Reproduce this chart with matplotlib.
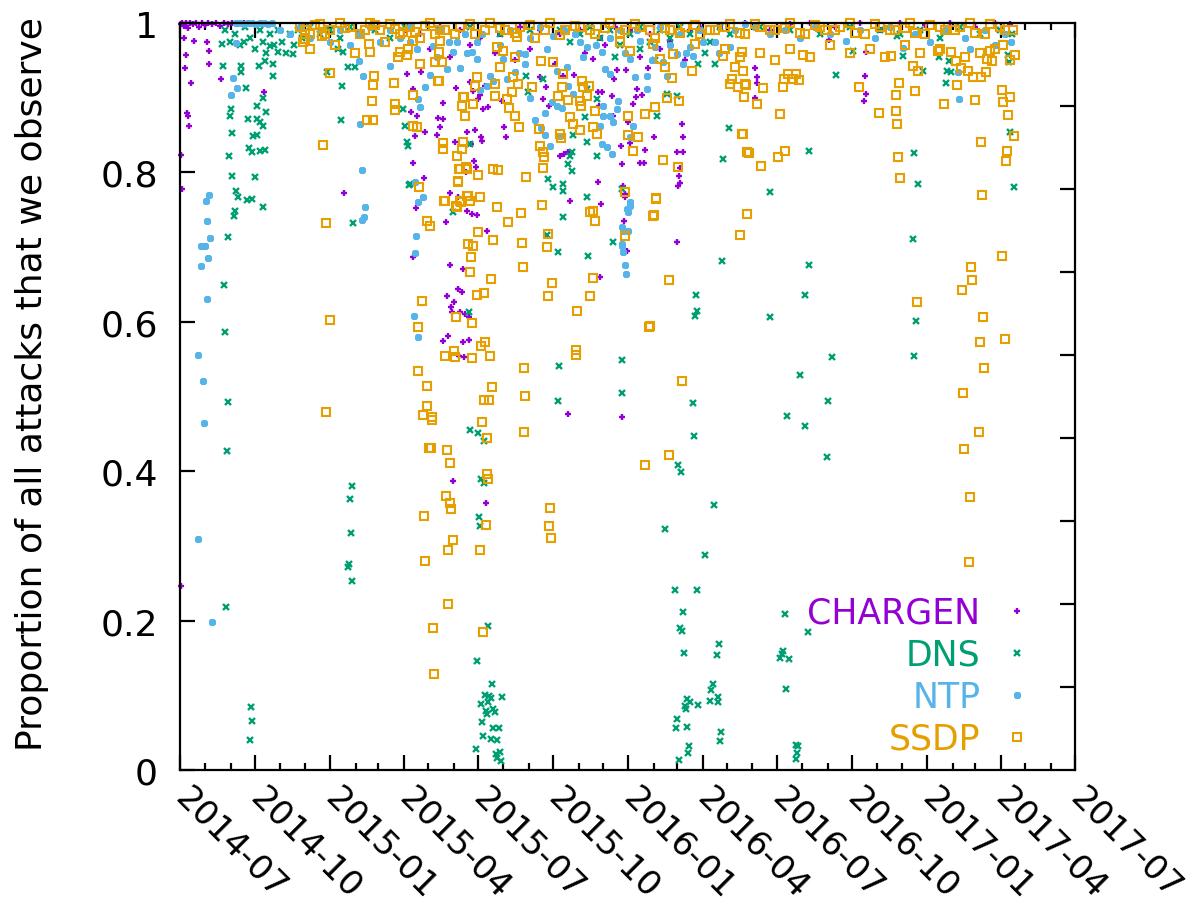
import numpy as np
import matplotlib
matplotlib.use("Agg")
import matplotlib.pyplot as plt
import matplotlib.dates as mdates
from matplotlib.ticker import FixedLocator, NullFormatter

START = np.datetime64("2014-07-01")
END = np.datetime64("2017-07-01")

chargen = [
    (1, .998), (2, 1.0), (5, .996), (7, 1.0), (10, .993), (12, 1.0), (16, .998), (20, 1.0),
    (23, .995), (27, 1.0), (31, .997), (34, 1.0), (39, .999), (44, 1.0), (49, .996), (54, 1.0),
    (59, .998), (64, 1.0), (71, .999), (78, 1.0),
    (1, .823), (2, .778), (1, .246), (6, .94), (7, .957), (9, .88), (10, .876), (11, .862),
    (13, .92), (5, .98), (17, .976), (33, .975), (36, .962), (36, .945), (50, .925), (103, .907),
    (201, .772),
    (278, .932), (295, .934), (285, .912), (283, .881), (290, .876), (288, .849), (300, .854),
    (315, .85), (316, .873), (322, .871), (322, .893), (338, .913), (359, .909), (367, .904),
    (365, .898), (374, .916), (371, .885), (377, .888), (394, .896), (318, .861), (337, .841),
    (351, .854), (361, .857), (369, .847), (370, .842), (356, .838), (360, .815), (362, .807),
    (350, .801), (299, .793), (285, .813), (331, .772), (340, .767), (358, .744), (351, .748),
    (364, .743), (326, .734), (289, .752), (376, .722), (285, .687), (397, .861), (399, .847),
    (441, .928), (448, .914), (445, .898), (452, .889), (465, .822), (470, .825), (475, .827),
    (512, .787), (516, .758), (478, .762), (469, .929), (482, .93), (506, .952), (512, .908),
    (517, .908), (529, .902), (531, .925), (535, .937), (546, .937), (573, .94), (560, .912),
    (558, .901), (566, .904), (555, .892), (530, .876), (549, .867), (551, .839), (540, .835),
    (580, .847), (569, .83), (563, .813), (568, .813), (541, .811), (615, .865), (616, .847),
    (609, .827), (616, .827), (612, .806), (611, .795), (612, .786), (610, .782), (513, .889),
    (542, .782), (544, .735), (545, .771), (547, .695), (609, .707), (355, .921), (545, .767),
    (541, .473),
    (331, .676), (347, .671), (340, .644), (345, .64), (327, .635), (336, .627), (332, .62),
    (333, .613), (343, .613), (349, .61), (354, .607), (322, .574), (328, .581), (347, .573),
    (354, .576), (342, .554), (348, .553), (514, .66), (475, .477), (334, .387), (375, .357),
    (276, .99), (294, .985), (318, .995), (343, .99), (367, .98), (392, .985), (416, .995),
    (441, .99), (465, .985), (490, .99), (514, .98), (533, .995), (551, .99), (576, .985),
    (600, .975), (625, .99), (637, .995),
    (306, .965), (331, .955), (355, .97), (386, .96), (410, .95), (429, .965), (459, .945),
    (496, .96), (520, .97), (563, .955), (588, .965), (618, .95),
    (704, .94), (707, .928), (707, .92), (704, .90), (795, .977), (839, .929), (840, .905),
    (838, .896), (840, .961),
    (661, .995), (692, 1.0), (723, .99), (747, .998), (772, 1.0), (802, .995), (833, 1.0),
    (857, .99), (882, 1.0), (912, .997), (943, 1.0), (974, .995), (998, 1.0), (1016, .998),
]

dns = [
    (55, .99), (61, .975), (67, .985), (73, .97), (80, .995), (86, .98), (92, .965), (98, .99),
    (102, .975), (105, .96), (110, .985), (115, .97), (120, .99), (125, .975), (130, .96),
    (135, .985), (140, .97), (145, .99), (149, .98), (159, .995), (171, .985), (184, .99),
    (196, .98), (208, .995), (220, .985), (239, .99), (257, .98), (276, .995),
    (51, .972), (53, .942), (75, .942), (75, .934), (81, .913), (97, .942), (104, .949),
    (114, .945), (114, .929), (102, .90), (94, .889), (105, .881), (83, .871), (94, .871),
    (98, .867), (102, .862), (64, .853), (89, .849), (94, .85), (84, .833), (88, .827),
    (98, .829), (104, .83), (60, .822), (64, .795), (92, .794), (69, .775), (71, .767),
    (82, .763), (88, .764), (62, .885), (61, .876), (78, .975), (110, .969), (120, .961),
    (138, .958), (197, .87), (198, .916), (193, .965), (200, .961), (206, .941), (214, .941),
    (180, .934),
    (102, .754), (67, .748), (66, .742), (59, .714), (54, .649), (55, .586), (59, .493),
    (58, .427), (212, .732), (280, .783),
    (56, .218), (87, .084), (88, .066), (86, .04),
    (211, .38), (208, .363), (209, .317), (207, .276), (206, .272), (211, .253),
    (369, .39), (372, .384), (366, .339), (367, .327), (377, .193), (364, .146), (382, .115),
    (374, .1), (378, .099), (381, .096), (394, .098), (369, .088), (377, .091), (375, .079),
    (383, .082), (386, .078), (376, .075), (370, .064), (383, .056), (391, .056), (371, .046),
    (381, .042), (388, .04), (362, .028), (387, .021), (392, .024), (388, .016), (393, .012),
    (614, .399), (654, .355), (594, .323), (643, .288), (606, .241), (633, .241), (616, .211),
    (612, .19), (615, .186), (617, .157), (660, .169), (658, .154), (653, .115), (650, .107),
    (659, .098), (649, .092), (659, .091), (634, .087), (621, .095), (625, .091), (618, .086),
    (620, .082), (609, .068), (607, .056), (621, .058), (663, .051), (661, .039), (623, .032),
    (622, .023), (611, .013),
    (741, .209), (738, .159), (737, .155), (735, .15), (746, .149), (742, .108), (769, .185),
    (754, .033), (757, .032), (756, .023), (754, .015),
    (723, .774), (664, .681), (770, .676), (632, .636), (633, .614), (631, .608), (765, .636),
    (723, .606), (798, .553), (759, .529), (794, .494), (743, .474), (765, .46), (792, .419),
    (628, .491), (629, .447), (610, .408), (541, .549), (541, .505), (898, .711), (901, .601),
    (899, .554), (904, .784),
    (354, .613), (464, .541), (463, .494), (355, .455), (365, .451), (372, .44), (463, .693),
    (500, .688),
    (276, .862), (273, .885), (278, .841), (279, .835), (282, .784), (355, .838), (424, .929),
    (426, .908), (496, .874), (498, .912), (511, .898), (481, .85), (480, .827), (478, .822),
    (475, .811), (480, .802), (469, .784), (498, .841), (511, .822), (451, .791), (457, .78),
    (469, .775), (498, .767), (469, .74), (530, .707), (541, .778), (584, .876), (596, .905),
    (609, .902), (634, .945), (665, .818), (672, .859), (445, .925), (334, .747), (449, .716),
    (824, .962), (803, .93), (770, .829), (899, .826), (1021, .78), (1016, .854), (1014, .957),
    (1015, .948), (885, .956), (929, .954), (938, .92), (942, .949), (939, .936), (944, .934),
    (910, .936), (878, .983),
    (318, .99), (355, .995), (392, .985), (429, .99), (465, .99), (478, .975), (490, .985),
    (502, .995), (514, .98), (527, .99), (539, .97), (551, .985), (563, .995), (576, .975),
    (588, .99), (600, .98), (612, .995), (625, .985), (637, .99), (649, .975), (661, .995),
    (674, .985), (533, .955), (563, .965), (582, .95), (643, .96), (655, .945),
    (710, .995), (747, .99), (784, .985), (820, .995), (857, .99), (882, .985), (906, .99),
    (931, .98), (955, .995), (980, .985), (1004, .99), (1019, .985),
]

ntp = [
    (69, 1.0), (73, 1.0), (78, .999), (83, 1.0), (88, 1.0), (93, .998), (98, 1.0), (103, 1.0),
    (108, .999), (113, 1.0), (122, .99), (135, .985), (147, .995), (159, .98), (171, .99),
    (184, .975), (196, .99), (208, .97), (220, .985), (233, .995), (245, .975), (257, .99),
    (269, .98), (282, .995),
    (36, .77), (32, .762), (33, .735), (37, .712), (26, .701), (31, .701), (34, .685), (26, .675),
    (33, .631), (22, .556), (28, .521), (29, .465), (22, .309), (39, .198), (227, .754),
    (225, .74), (223, .736), (289, .715), (288, .692), (287, .608), (291, .58),
    (69, .973), (65, .926), (70, .913), (62, .904), (220, .865), (223, .803), (219, .949),
    (224, .929), (257, .942),
    (282, .975), (300, .914), (294, .888), (291, .898), (288, .787), (291, .76), (298, .767),
    (310, .969), (327, .938), (334, .961), (364, .975), (364, .952), (380, .929), (400, .925),
    (396, .952), (422, .958), (422, .945), (457, .983), (456, .894), (462, .889), (468, .886),
    (481, .905), (462, .936), (474, .941), (475, .916), (490, .975), (498, .968), (518, .889),
    (518, .876), (514, .862), (517, .838), (523, .834), (530, .867), (527, .876), (536, .896),
    (535, .885), (527, .932), (520, .938), (517, .961), (529, .825), (541, .727), (551, .755),
    (549, .747), (542, .722), (541, .701), (572, .929), (572, .912), (557, .928), (551, .952),
    (563, .976), (591, .948), (596, .929), (609, .958), (625, .968), (628, .956), (616, .945),
    (582, .968), (555, .862), (551, .847), (453, .835), (465, .849), (674, .968), (383, .922),
    (376, .916), (358, .961), (339, .975),
    (551, .76), (547, .751), (549, .722), (541, .704), (542, .693), (545, .676), (546, .664),
    (954, .898), (953, .934), (885, .967), (816, .976), (1018, .975), (967, .965),
    (637, .99), (655, .975), (680, .99), (692, .998), (704, .995), (723, .985), (741, .99),
    (759, .98), (778, .995), (796, .985), (833, .99), (851, .98), (869, .995), (900, .985),
    (918, .975), (937, .99), (961, .98), (986, .99), (998, .97), (1010, .985),
    (318, .99), (349, .985), (404, .99), (441, .995), (484, .985), (539, .99), (588, .995),
    (612, .985), (306, .93), (343, .94), (367, .91), (410, .935), (429, .90), (447, .88),
    (435, .87), (442, .86), (447, .85),
    (290, .965), (315, .955), (330, .975), (352, .96), (370, .985), (392, .97), (415, .96),
    (428, .98), (450, .965), (470, .99), (494, .955), (510, .97), (526, .98), (545, .96),
    (560, .99), (578, .95), (600, .97), (620, .96), (640, .975), (660, .96),
]

ssdp = [
    (174, .983), (184, .933), (238, .929), (236, .917), (235, .896), (262, .92), (263, .892),
    (263, .884), (229, .87), (236, .87), (175, .837), (269, .961), (278, .957), (294, .945),
    (231, .972), (233, .961), (153, .979), (151, .975), (290, .861), (285, .862), (317, .922),
    (347, .901), (345, .889), (349, .876), (322, .839), (322, .831), (345, .831), (347, .841),
    (339, .822), (343, .805), (350, .807), (340, .787), (293, .78), (323, .762), (343, .762),
    (338, .755), (351, .768),
    (179, .732), (184, .602), (179, .479), (296, .628), (291, .593), (291, .534),
    (356, .687), (355, .667), (381, .657), (364, .636), (372, .638), (420, .673), (456, .652),
    (451, .635), (506, .659), (502, .635), (486, .614), (599, .656), (574, .593), (338, .606),
    (358, .598), (374, .573), (369, .568), (325, .554), (336, .561), (337, .553), (358, .552),
    (380, .554), (421, .538), (485, .562), (485, .556), (302, .514), (382, .513), (422, .501),
    (372, .495), (378, .495), (302, .487), (298, .475), (309, .473), (309, .469), (370, .466),
    (421, .452), (376, .444), (305, .431), (307, .431), (327, .428), (331, .411), (376, .396),
    (377, .39), (326, .367), (599, .422), (569, .408),
    (331, .357), (332, .349), (299, .34), (334, .308), (328, .294), (300, .28), (328, .222),
    (310, .19), (311, .128),
    (375, .328), (367, .294), (371, .185), (453, .351), (452, .327), (454, .31),
    (545, .774), (583, .764), (580, .743), (694, .744), (686, .716), (576, .594), (615, .521),
    (903, .627),
    (1007, .688), (969, .673), (970, .656), (958, .643), (983, .606), (980, .573), (1010, .577),
    (985, .538), (959, .505), (978, .452), (960, .43), (967, .365), (966, .278),
    (689, .936), (693, .917), (691, .901), (707, .892), (714, .913), (735, .878), (689, .851),
    (697, .826), (732, .821), (741, .829), (711, .809), (740, .925), (738, .914), (745, .932),
    (754, .932), (758, .924), (751, .925), (763, .957), (832, .914), (856, .88), (880, .92),
    (877, .904), (900, .909), (877, .882), (878, .865), (879, .821), (882, .793), (936, .892),
    (952, .917), (974, .897), (898, .942), (904, .936), (956, .94), (965, .936), (971, .928),
    (981, .928), (987, .934), (988, .952), (994, .949), (992, .963), (1007, .91), (1008, .894),
    (1016, .901), (1014, .877), (981, .841), (1021, .849), (1013, .829), (1012, .815),
    (982, .77), (1023, .957), (1008, .971), (871, .956), (928, .963), (944, .961), (950, .949),
    (273, .988), (285, .976), (312, .985), (318, .976), (317, .961), (312, .948), (321, .948),
    (316, .922), (285, .904), (364, .928), (361, .916), (348, .901), (359, .892), (386, .918),
    (386, .902), (392, .941), (388, .968), (396, .963), (413, .981), (410, .954), (408, .928),
    (414, .918), (431, .914), (407, .908), (400, .898), (403, .886), (410, .876), (415, .861),
    (442, .949), (457, .948), (469, .932), (492, .922), (494, .914), (501, .916), (491, .889),
    (490, .896), (498, .902), (475, .897), (468, .914), (463, .902), (478, .874), (481, .865),
    (490, .857), (508, .882), (506, .861), (511, .851), (440, .858), (441, .835), (445, .827),
    (446, .821), (445, .806), (465, .851), (467, .846), (549, .85), (561, .847), (555, .829),
    (569, .878), (549, .876), (582, .888), (591, .817), (610, .807), (583, .766), (579, .742),
    (545, .715), (502, .747), (506, .748), (508, .735), (443, .756), (418, .746), (402, .734),
    (388, .754), (367, .767), (353, .768), (355, .762), (344, .76), (325, .762), (339, .754),
    (302, .735), (306, .728), (365, .72), (383, .71), (353, .704), (359, .701), (419, .705),
    (451, .718), (449, .70), (351, .805), (342, .805), (340, .789), (365, .797), (383, .805),
    (389, .803), (424, .794),
    (688, .851), (694, .827), (665, .956), (680, .941), (676, .925), (674, .918), (683, .914),
    (692, .918), (688, .961), (627, .936), (603, .926), (596, .90), (611, .896), (588, .952),
    (594, .941), (604, .958), (631, .972), (539, .975), (551, .963), (579, .972),
    (159, .965), (190, .97), (214, .96), (251, .975), (267, .955), (279, .965),
    (147, .995), (159, .985), (171, .998), (184, .99), (196, 1.0), (208, .995), (220, .985),
    (233, 1.0), (245, .99), (257, .998), (269, .985), (282, .995), (294, .98), (306, 1.0),
    (325, .99), (343, .995), (361, .985), (380, 1.0), (398, .99), (416, .995), (435, .98),
    (453, 1.0), (471, .99), (490, .995), (508, .985), (527, 1.0), (545, .99), (563, .995),
    (582, .98), (600, .99), (618, .995), (637, .985), (655, .99), (674, .998), (692, .985),
    (710, .995), (729, .99), (747, 1.0), (765, .985), (784, .995), (802, .99), (820, 1.0),
    (839, .985), (857, .995), (875, .99), (894, 1.0), (912, .985), (931, .995), (949, .99),
    (967, 1.0), (986, .985), (1004, .995), (1020, .99),
    (667, .965), (686, .955), (710, .96), (729, .95), (747, .965), (772, .955), (796, .97),
    (820, .96), (845, .965), (863, .955), (888, .97), (906, .96), (931, .965), (961, .955),
    (980, .96), (998, .965), (1016, .95),
    (153, .99), (165, .997), (178, .985), (202, .993), (227, .99), (239, .997), (263, .992),
    (288, .988), (300, .996), (318, .99), (337, .985), (355, .998), (373, .99), (392, .993),
    (410, .986), (429, .997), (447, .99), (465, .984), (484, .996), (502, .99), (520, .993),
    (539, .986), (557, .998), (576, .99), (594, .993), (612, .987), (631, .997), (649, .99),
    (667, .994), (686, .986), (704, .998), (723, .99), (741, .993), (759, .987), (778, .997),
    (790, .99), (808, .994), (826, .986), (851, .998), (869, .99), (888, .993), (900, .987),
    (918, .997), (937, .99), (955, .994), (974, .986), (992, .998), (1010, .99),
]

series = [
    ("CHARGEN", chargen, "#9400d3", "+", 5.0, 1.7),
    ("DNS", dns, "#009e73", "x", 4.6, 1.7),
    ("NTP", ntp, "#56b4e9", (8, 2, 0), 5.0, 1.9),
    ("SSDP", ssdp, "#e69f00", "s", 5.6, 1.5),
]


def to_dates(days):
    return START + np.array(days, dtype="int64").astype("timedelta64[D]")


FS = 26
plt.rcParams["font.family"] = ["DejaVu Sans"]
fig = plt.figure(figsize=(11.88, 9.03), dpi=100)
ax = fig.add_axes([180 / 1188, 132 / 903, 895 / 1188, 747 / 903])

handles = []
for name, pts, color, marker, ms, mew in series:
    d, v = zip(*pts)
    h, = ax.plot(to_dates(d), v, linestyle="none", marker=marker, markersize=ms,
                 markeredgewidth=mew, color=color,
                 markerfacecolor="none" if marker == "s" else color,
                 clip_on=False, label=name)
    handles.append(h)

ax.set_xlim(START, END)
ax.set_ylim(0, 1)
ax.set_yticks([0, 0.2, 0.4, 0.6, 0.8, 1.0])
ax.set_yticklabels(["0", "0.2", "0.4", "0.6", "0.8", "1"])
ax.xaxis.set_major_locator(mdates.MonthLocator(bymonth=[1, 4, 7, 10]))
ax.xaxis.set_minor_locator(mdates.MonthLocator())
ax.xaxis.set_major_formatter(mdates.DateFormatter("%Y-%m"))

for s in ax.spines.values():
    s.set_linewidth(1.6)
ax.tick_params(axis="both", which="major", direction="in", length=11, width=1.6,
               labelsize=FS, top=True, right=False)
ax.tick_params(axis="x", which="minor", direction="in", length=5, width=1.6, top=True)
ax.tick_params(axis="y", which="major", pad=16)
ax.tick_params(axis="x", which="major", pad=16, labelsize=24.5)
for lab in ax.get_xticklabels():
    lab.set_rotation(-45)
    lab.set_ha("left")
    lab.set_va("center")
    lab.set_rotation_mode("anchor")

ax2 = ax.twinx()
ax2.set_ylim(0, 1)
ax2.yaxis.set_major_locator(FixedLocator(np.arange(1, 9) / 9))
ax2.yaxis.set_major_formatter(NullFormatter())
ax2.tick_params(axis="y", direction="in", length=11, width=1.6)
for s in ax2.spines.values():
    s.set_visible(False)

ax.set_ylabel("Proportion of all attacks that we observe", fontsize=FS, labelpad=37)
ax.yaxis.label.set_y(0.518)

leg = ax2.legend(handles, [h.get_label() for h in handles], loc="lower right",
                 bbox_to_anchor=(0.964, 0.019), frameon=False, markerfirst=False,
                 fontsize=25, labelspacing=0.23, handlelength=1.5, handletextpad=0.3,
                 borderpad=0, borderaxespad=0, numpoints=1)
for txt, h in zip(leg.get_texts(), handles):
    txt.set_color(h.get_color())

fig.savefig("out.png", dpi=100)
